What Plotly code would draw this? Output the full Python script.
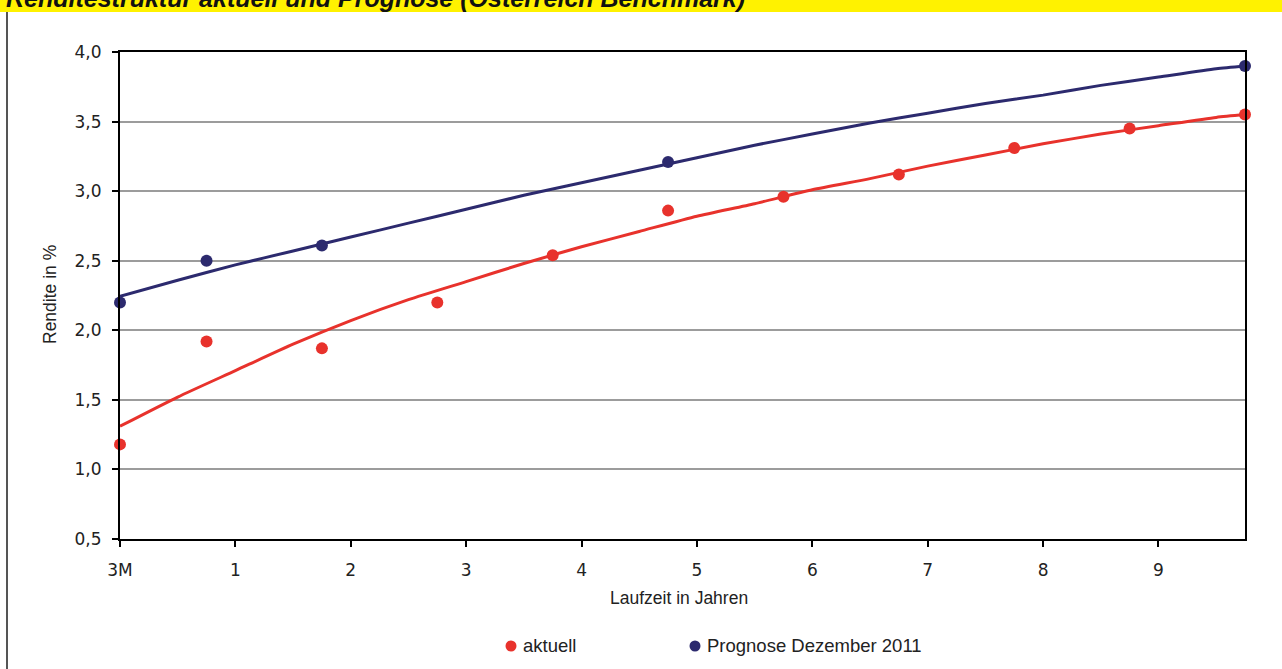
import plotly.graph_objects as go

# Maturity axis: 0 = 3 months, then years
TICK_VALS = [0, 1, 2, 3, 4, 5, 6, 7, 8, 9]
TICK_TEXT = ["3M", "1", "2", "3", "4", "5", "6", "7", "8", "9"]

# Observed yields (dots)
AKTUELL_X = [0, 0.75, 1.75, 2.75, 3.75, 4.75, 5.75, 6.75, 7.75, 8.75, 9.75]
AKTUELL_Y = [1.18, 1.92, 1.87, 2.20, 2.54, 2.86, 2.96, 3.12, 3.31, 3.45, 3.55]

PROGNOSE_X = [0, 0.75, 1.75, 4.75, 9.75]
PROGNOSE_Y = [2.20, 2.50, 2.61, 3.21, 3.90]

# Fitted curves
CURVE_X = [0, 0.5, 1.0, 1.5, 2.0, 2.5, 3.0, 3.5, 4.0, 4.5, 5.0,
           5.5, 6.0, 6.5, 7.0, 7.5, 8.0, 8.5, 9.0, 9.5, 9.75]
AKTUELL_CURVE = [1.31, 1.52, 1.71, 1.90, 2.07, 2.22, 2.35, 2.48, 2.60, 2.71, 2.82,
                 2.91, 3.01, 3.09, 3.18, 3.26, 3.34, 3.41, 3.47, 3.53, 3.55]
PROGNOSE_CURVE = [2.245, 2.36, 2.47, 2.57, 2.67, 2.77, 2.87, 2.97, 3.06, 3.15, 3.24,
                  3.33, 3.41, 3.49, 3.56, 3.63, 3.69, 3.76, 3.82, 3.88, 3.90]

SERIES_NAMES = ["aktuell", "Prognose Dezember 2011"]

RED = "#E8322C"
BLUE = "#2C2A6E"
W, H = 1282, 669
L, R, T, B = 120, 37, 52, 130
PW, PH = W - L - R, H - T - B


def px_x(x):
    return (x - L) / PW


def px_y(y):
    return (H - B - y) / PH


fig = go.Figure()
fig.add_trace(go.Scatter(x=CURVE_X, y=AKTUELL_CURVE, mode="lines",
                         line=dict(color=RED, width=3, shape="spline", smoothing=0.6),
                         showlegend=False))
fig.add_trace(go.Scatter(x=CURVE_X, y=PROGNOSE_CURVE, mode="lines",
                         line=dict(color=BLUE, width=3, shape="spline", smoothing=0.6),
                         showlegend=False))
fig.add_trace(go.Scatter(x=AKTUELL_X, y=AKTUELL_Y, mode="markers", name=SERIES_NAMES[0],
                         marker=dict(color=RED, size=12), cliponaxis=False,
                         showlegend=False))
fig.add_trace(go.Scatter(x=PROGNOSE_X, y=PROGNOSE_Y, mode="markers",
                         name=SERIES_NAMES[1],
                         marker=dict(color=BLUE, size=12), cliponaxis=False,
                         showlegend=False))

tick_font = dict(family="DejaVu Sans", size=17, color="#222222")
label_font = dict(family="Liberation Sans", size=17.5, color="#222222")

fig.update_xaxes(range=[0, 9.75], tickvals=TICK_VALS, ticktext=TICK_TEXT,
                 showgrid=False, zeroline=False, showline=True, mirror=True,
                 linecolor="black", linewidth=2, ticks="outside", ticklen=6,
                 tickcolor="black", tickwidth=1.5, tickfont=tick_font,
                 ticklabelstandoff=9)
fig.update_yaxes(range=[0.5, 4.0], dtick=0.5, tickformat=".1f",
                 showgrid=True, gridcolor="#9c9c9c", gridwidth=1.5,
                 zeroline=False, showline=True, mirror=True,
                 linecolor="black", linewidth=2, ticks="outside", ticklen=6,
                 tickcolor="black", tickwidth=1.5, tickfont=tick_font,
                 ticklabelstandoff=7)


def legend_dot(cx, cy, color, d=11):
    return dict(type="circle", xref="paper", yref="paper",
                xsizemode="pixel", ysizemode="pixel",
                xanchor=px_x(cx), yanchor=px_y(cy),
                x0=-d / 2, x1=d / 2, y0=-d / 2, y1=d / 2,
                fillcolor=color, line=dict(width=0))


shapes = [
    # yellow header band
    dict(type="rect", xref="paper", yref="paper", layer="below",
         x0=px_x(0), x1=px_x(W), y0=px_y(12), y1=px_y(-20),
         fillcolor="#FFF200", line=dict(width=0)),
    # left frame line
    dict(type="line", xref="paper", yref="paper",
         x0=px_x(7), x1=px_x(7), y0=px_y(12), y1=px_y(H + 5),
         line=dict(color="#555555", width=2)),
    legend_dot(511, 646, RED),
    legend_dot(695, 646, BLUE),
]

legend_font = dict(family="Liberation Sans", size=18.5, color="#222222")

annotations = [
    dict(text="<b><i>Renditestruktur aktuell und Prognose (Österreich Benchmark)</i></b>",
         xref="paper", yref="paper", x=px_x(4), y=px_y(14),
         xanchor="left", yanchor="bottom", showarrow=False,
         font=dict(family="Liberation Sans", size=25, color="#111111")),
    dict(text="Rendite in %", xref="paper", yref="paper",
         x=px_x(50), y=px_y(295), textangle=-90, showarrow=False,
         xanchor="center", yanchor="middle", font=label_font),
    dict(text="Laufzeit in Jahren", xref="paper", yref="paper",
         x=px_x(679), y=px_y(598), showarrow=False,
         xanchor="center", yanchor="middle", font=label_font),
    dict(text=SERIES_NAMES[0], xref="paper", yref="paper",
         x=px_x(521), y=px_y(645), showarrow=False,
         xanchor="left", yanchor="middle", font=legend_font),
    dict(text=SERIES_NAMES[1], xref="paper", yref="paper",
         x=px_x(705), y=px_y(645), showarrow=False,
         xanchor="left", yanchor="middle", font=legend_font),
]

fig.update_layout(width=W, height=H, margin=dict(l=L, r=R, t=T, b=B),
                  paper_bgcolor="white", plot_bgcolor="white",
                  separators=",.", showlegend=False,
                  shapes=shapes, annotations=annotations)

fig.write_html("out.html")
